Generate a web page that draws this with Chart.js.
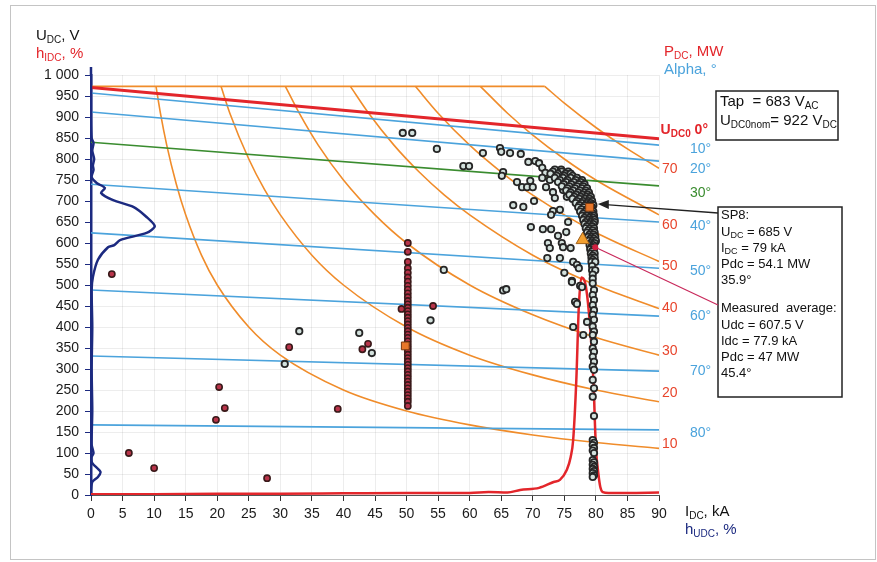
<!DOCTYPE html>
<html>
<head>
<meta charset="utf-8">
<script src="https://cdn.jsdelivr.net/npm/chart.js@4.4.0/dist/chart.umd.min.js"></script>
<style>
html, body { margin: 0; background: #fff; }
</style>
</head>
<body>
<canvas id="myChart" width="877" height="562"></canvas>
<script>
// firing angle lines (alpha), U at I=0 and at I=90 kA
var alphaNames = ['0°', '10°', '20°', '30°', '40°', '50°', '60°', '70°', '80°'];
var alphaStartU = [970, 957, 912, 840, 740, 624, 488, 331, 167];
var alphaEndU = [848, 833, 795, 736, 650, 540, 426, 295, 155];

// constant power curves, MW
var powerLevels = [10, 20, 30, 40, 50, 60, 70];
var powerI = [
  [10.3, 11, 12, 13.5, 15, 17.5, 20, 25, 30, 40, 50, 60, 70, 80, 90],
  [20.6, 22, 25, 27.5, 30, 35, 40, 50, 60, 70, 80, 90],
  [30.8, 33, 36, 40, 45, 50, 60, 70, 80, 90],
  [41.1, 44, 48, 52, 56, 60, 70, 80, 90],
  [51.4, 55, 60, 65, 70, 80, 90],
  [61.7, 66, 70, 75, 80, 90],
  [71.9, 75, 80, 85, 90]
];
var powerU = [
  [973, 909, 833, 741, 667, 571, 500, 400, 333, 250, 200, 167, 143, 125, 111],
  [973, 909, 800, 727, 667, 571, 500, 400, 333, 286, 250, 222],
  [973, 909, 833, 750, 667, 600, 500, 429, 375, 333],
  [973, 909, 833, 769, 714, 667, 571, 500, 444],
  [973, 909, 833, 769, 714, 625, 556],
  [973, 909, 857, 800, 750, 667],
  [973, 933, 875, 824, 778]
];
var capI = [0, 71.9];
var capU = [973, 973];

// histogram of current (red) and voltage (blue)
var histIdcI = [0, 10, 20, 30, 40, 50, 60, 63, 66, 68, 71, 73.3, 74.3, 75.4, 76, 76.4, 76.9, 77.3, 77.7, 78.3, 78.9, 79.6, 80, 80.4, 80.7, 81.1, 82, 85, 90];
var histIdcU = [2, 2, 3, 3, 4, 5, 5, 7, 6, 12, 17, 31, 36, 60, 90, 131, 274, 450, 518, 505, 433, 274, 114, 50, 19, 7, 5, 5, 6];
var histUdcU = [1000, 900, 850, 838, 820, 800, 785, 774, 757, 743, 731, 719, 702, 686, 662, 640, 624, 607, 595, 590, 560, 519, 488, 400, 300, 200, 120, 100, 90, 76, 55, 43, 31, 10, 0];
var histUdcI = [0, 0, 0.1, 0.4, 0.2, 0.5, 0.3, 0.4, 0.1, 0.9, 2.2, 1.6, 3.5, 6.7, 8.8, 10.1, 8.8, 4.6, 3.7, 2.7, 1.1, 0.3, 0.1, 0.2, 0.1, 0.2, 0.1, 0.4, 0.1, 0.2, 1.5, 1.1, 0.2, 0, 0];

// measured points
var openI = [49.4, 50.9, 54.8, 59, 59.9, 62.1, 64.8, 65, 66.4, 68.1, 69.3, 70.4, 71, 71.5, 72, 65.3, 65.1, 67.5, 69.6, 68.3, 69.1, 70, 71.5, 72.1, 72.7, 70.2, 66.9, 68.5, 73.2, 72.9, 69.7, 71.6, 72.9, 75.3, 74, 72.4, 72.7, 74.6, 74.8, 76, 72.3, 74.3, 65.3, 65.8, 75, 76.2, 76.4, 77, 77.3, 76.9, 77.5, 76.2, 76.7, 77, 76.4, 78, 77.8, 78.6, 33, 30.7, 42.5, 44.5, 53.8, 55.9, 73.2, 73.5, 74.8, 75.4, 74.3, 75.6];
var openU = [862, 862, 824, 783, 783, 814, 826, 817, 814, 812, 793, 795, 790, 779, 767, 769, 760, 745, 748, 733, 733, 733, 755, 733, 750, 700, 690, 686, 676, 667, 638, 633, 633, 626, 617, 600, 588, 600, 590, 588, 564, 564, 487, 490, 529, 510, 555, 548, 540, 457, 498, 507, 460, 455, 400, 381, 495, 412, 390, 312, 386, 338, 416, 536, 721, 707, 726, 710, 679, 650];
var clusterRowU = [775, 770, 765, 760, 755, 750, 745, 740, 735, 730, 725, 720, 715, 710, 705, 700, 695, 690, 685, 680, 675, 670, 665, 660, 655, 650, 645, 640, 635, 630, 625, 620, 615, 610, 605, 600, 595, 590, 585, 580, 575, 570, 565, 560, 555, 545, 535, 525, 515];
var clusterRowI = [
  [73.5, 74.5], [73.2, 74.6, 75.6], [72.8, 74, 75.2, 76], [73.8, 75, 76.3],
  [73.5, 74.8, 76, 77], [74.3, 75.5, 76.8, 77.8], [74, 75.3, 76.5, 77.6], [74.9, 76.1, 77.3, 78.2],
  [74.6, 75.8, 77, 78], [75.5, 76.7, 77.8, 78.6], [75.3, 76.4, 77.5, 78.4], [76, 77.2, 78.2, 78.9],
  [75.8, 76.9, 77.9, 78.7], [76.6, 77.6, 78.5, 79.2], [76.3, 77.4, 78.3, 79], [77, 78, 78.8, 79.4],
  [76.8, 77.8, 78.6, 79.2], [77.4, 78.3, 79.1, 79.6], [77.2, 78.1, 78.9, 79.4], [77.7, 78.6, 79.3],
  [77.5, 78.4, 79.1, 79.6], [78, 78.8, 79.5], [77.8, 78.6, 79.3, 79.7], [78.2, 79, 79.6],
  [78, 78.8, 79.4, 79.8], [78.4, 79.2, 79.8], [78.2, 79, 79.6], [78.6, 79.4],
  [78.4, 79.1, 79.7], [78.8, 79.5], [78.6, 79.3, 79.8], [79, 79.6],
  [78.8, 79.4, 79.9], [79.1, 79.7], [78.9, 79.5, 80], [79.2, 79.8],
  [79, 79.6], [79.3, 79.6], [79.1, 79.7], [79.4], [79.2, 79.8], [79.5],
  [79.3, 79.8], [79.5], [79.3, 79.9], [79.4], [79.4, 79.9], [79.5], [79.5]
];
var col80U = [504, 488, 476, 464, 452, 440, 429, 417, 401, 389, 381, 365, 349, 341, 329, 317, 306, 298, 274, 254, 234, 188, 131, 124, 119, 112, 106, 100, 83, 78, 72, 67, 62, 57, 52, 47, 43];
var redI = [3.3, 6, 10, 27.9, 19.8, 20.3, 21.2, 31.4, 43.9, 43, 39.1, 49.2, 54.2];
var redU = [526, 100, 64, 40, 179, 257, 207, 352, 360, 347, 205, 443, 450];
var col50U = [600, 579, 555, 540, 529, 518, 508, 498, 489, 480, 471, 462, 454, 446, 438, 430, 422, 414, 406, 398, 390, 382, 374, 366, 358, 350, 342, 334, 326, 318, 310, 302, 294, 286, 278, 270, 262, 254, 246, 238, 230, 222, 212];

var sp8 = {x: 79, y: 685};
var measuredAvg = {x: 77.9, y: 607.5};
var extraSquare = {x: 49.8, y: 355};

var FONT = '"Liberation Sans", Arial, sans-serif';

function pts(xs, ys) {
  return xs.map(function (x, i) { return {x: x, y: ys[i]}; });
}

var openPts = pts(openI, openU);
clusterRowU.forEach(function (u, r) {
  clusterRowI[r].forEach(function (i) { openPts.push({x: i, y: u}); });
});
col80U.forEach(function (u, k) { openPts.push({x: k % 2 ? 79.7 : 79.5, y: u}); });
var redPts = pts(redI, redU);
col50U.forEach(function (u) { redPts.push({x: 50.2, y: u}); });

var datasets = [];
alphaNames.forEach(function (n, i) {
  datasets.push({
    data: [{x: 0, y: alphaStartU[i]}, {x: 90, y: alphaEndU[i]}],
    showLine: true, pointRadius: 0,
    borderColor: i === 0 ? '#e3262b' : (i === 3 ? '#3a8c2f' : '#4ba3dc'),
    borderWidth: i === 0 ? 3 : 1.6, order: 10
  });
});
datasets.push({data: pts(capI, capU), showLine: true, pointRadius: 0, borderColor: '#f08c2a', borderWidth: 1.6, order: 11});
powerLevels.forEach(function (p, i) {
  datasets.push({
    data: pts(powerI[i], powerU[i]), showLine: true, pointRadius: 0,
    borderColor: '#f08c2a', borderWidth: 1.6, cubicInterpolationMode: 'monotone', order: 11
  });
});
datasets.push({data: pts(histIdcI, histIdcU), showLine: true, pointRadius: 0, borderColor: '#e3262b', borderWidth: 2.5, cubicInterpolationMode: 'monotone', order: 5});
datasets.push({data: pts(histUdcI, histUdcU), showLine: true, pointRadius: 0, borderColor: '#1c2a80', borderWidth: 2.5, tension: 0.25, order: 5});
datasets.push({data: openPts, pointRadius: 3.2, pointBorderWidth: 1.8, pointBorderColor: '#262626', pointBackgroundColor: '#d3e1dd', order: 3});
datasets.push({data: redPts, pointRadius: 3.1, pointBorderWidth: 1.6, pointBorderColor: '#3a1a1a', pointBackgroundColor: '#b8344a', order: 2});
datasets.push({data: [sp8, extraSquare], pointStyle: 'rect', pointRadius: 5.5, pointBorderWidth: 1, pointBorderColor: '#7a3a10', pointBackgroundColor: '#e8772a', order: 1});
datasets.push({data: [measuredAvg], pointStyle: 'triangle', pointRadius: 7.5, pointBorderWidth: 1, pointBorderColor: '#a0601a', pointBackgroundColor: '#f2a030', order: 1});

function rich(ctx, x, y, parts, size, color, weight, align) {
  ctx.save();
  ctx.fillStyle = color;
  ctx.textBaseline = 'middle';
  ctx.textAlign = 'left';
  var w = 0;
  parts.forEach(function (p) {
    ctx.font = (weight || 'normal') + ' ' + (p[1] ? Math.round(size * 0.68) : size) + 'px ' + FONT;
    w += ctx.measureText(p[0]).width;
  });
  var cx = align === 'right' ? x - w : x;
  parts.forEach(function (p) {
    ctx.font = (weight || 'normal') + ' ' + (p[1] ? Math.round(size * 0.68) : size) + 'px ' + FONT;
    ctx.fillText(p[0], cx, p[1] ? y + size * 0.28 : y);
    cx += ctx.measureText(p[0]).width;
  });
  ctx.restore();
}

var annotations = {
  id: 'annotations',
  afterDatasetsDraw: function (chart) {
    var ctx = chart.ctx, xs = chart.scales.x, ys = chart.scales.y, a = chart.chartArea;
    ctx.save();
    // frame
    ctx.strokeStyle = '#c4c4c4';
    ctx.lineWidth = 1;
    ctx.strokeRect(10.5, 5.5, 865, 554);
    // axis extension above 1000
    ctx.strokeStyle = '#1c2a80';
    ctx.lineWidth = 2.5;
    ctx.beginPath(); ctx.moveTo(a.left, a.top); ctx.lineTo(a.left, a.top - 8); ctx.stroke();

    // axis titles
    rich(ctx, 36, 36, [['U'], ['DC', 1], [', V']], 15, '#111');
    rich(ctx, 36, 54, [['h'], ['IDC', 1], [', %']], 15, '#e3262b');
    rich(ctx, 664, 52, [['P'], ['DC', 1], [', MW']], 15, '#e3262b');
    rich(ctx, 664, 70, [['Alpha, °']], 15, '#4ba3dc');
    rich(ctx, 685, 512, [['I'], ['DC', 1], [', kA']], 15, '#111');
    rich(ctx, 685, 530, [['h'], ['UDC', 1], [', %']], 15, '#1c2a80');

    // alpha labels
    rich(ctx, 708, 130, [['U'], ['DC0', 1], [' 0°']], 14, '#e3262b', 'bold', 'right');
    var alphaY = [149, 169, 193, 226, 271, 316, 371, 433];
    for (var i = 1; i < alphaNames.length; i++) {
      rich(ctx, 690, alphaY[i - 1], [[alphaNames[i]]], 14, i === 3 ? '#3a8c2f' : '#4ba3dc');
    }
    // power labels
    var pY = [444, 393, 351, 308, 266, 225, 169];
    powerLevels.forEach(function (p, k) {
      rich(ctx, 662, pY[k], [[String(p)]], 14, '#e8452c');
    });

    // box 1
    ctx.strokeStyle = '#222'; ctx.lineWidth = 1.5;
    ctx.strokeRect(716, 91, 122, 49);
    rich(ctx, 720, 102, [['Tap  = 683 V'], ['AC', 1]], 15, '#111');
    rich(ctx, 720, 121, [['U'], ['DC0nom', 1], ['= 922 V'], ['DC', 1]], 15, '#111');

    // box 2
    ctx.strokeRect(718, 207, 124, 190);
    var lh = [215, 232, 248, 264, 280, 308, 325, 341, 357, 373];
    rich(ctx, 721, lh[0], [['SP8:']], 13, '#111');
    rich(ctx, 721, lh[1], [['U'], ['DC', 1], [' = 685 V']], 13, '#111');
    rich(ctx, 721, lh[2], [['I'], ['DC', 1], [' = 79 kA']], 13, '#111');
    rich(ctx, 721, lh[3], [['Pdc = 54.1 MW']], 13, '#111');
    rich(ctx, 721, lh[4], [['35.9°']], 13, '#111');
    rich(ctx, 721, lh[5], [['Measured  average:']], 13, '#111');
    rich(ctx, 721, lh[6], [['Udc = 607.5 V']], 13, '#111');
    rich(ctx, 721, lh[7], [['Idc = 77.9 kA']], 13, '#111');
    rich(ctx, 721, lh[8], [['Pdc = 47 MW']], 13, '#111');
    rich(ctx, 721, lh[9], [['45.4°']], 13, '#111');

    // arrow to SP8
    var tx = xs.getPixelForValue(80.3), ty = ys.getPixelForValue(693);
    ctx.strokeStyle = '#222'; ctx.lineWidth = 1.3;
    ctx.beginPath(); ctx.moveTo(718, 213); ctx.lineTo(tx + 8, ty + 0.6); ctx.stroke();
    ctx.fillStyle = '#222';
    ctx.beginPath(); ctx.moveTo(tx, ty); ctx.lineTo(tx + 11, ty - 4); ctx.lineTo(tx + 11, ty + 5); ctx.closePath(); ctx.fill();

    // line to measured average
    var mx = xs.getPixelForValue(79.9), my = ys.getPixelForValue(590);
    ctx.strokeStyle = '#c8285a'; ctx.lineWidth = 1.2;
    ctx.beginPath(); ctx.moveTo(718, 305); ctx.lineTo(mx, my); ctx.stroke();
    ctx.fillStyle = '#d02040';
    ctx.beginPath(); ctx.arc(mx, my, 3, 0, Math.PI * 2); ctx.fill();
    ctx.restore();
  }
};

var ctx = document.getElementById('myChart').getContext('2d');
var chart = new Chart(ctx, {
  type: 'scatter',
  data: {datasets: datasets},
  options: {
    responsive: false,
    animation: false,
    layout: {padding: {left: 0, right: 218, top: 75, bottom: 0}},
    plugins: {legend: {display: false}, tooltip: {enabled: false}},
    scales: {
      x: {
        type: 'linear', min: 0, max: 90,
        afterFit: function (s) { s.height = 67; },
        ticks: {stepSize: 5, autoSkip: false, maxRotation: 0, padding: 5, color: '#1a1a1a', font: {family: FONT, size: 14}},
        grid: {color: 'rgba(0,0,0,0.07)', tickColor: '#333', tickLength: 6},
        border: {color: '#555', width: 1}
      },
      y: {
        type: 'linear', min: 0, max: 1000,
        afterFit: function (s) { s.width = 91; },
        ticks: {
          stepSize: 50, autoSkip: false, padding: 6, color: '#1a1a1a', font: {family: FONT, size: 14},
          callback: function (v) { return v >= 1000 ? '1 000' : v; }
        },
        grid: {color: 'rgba(0,0,0,0.07)', tickColor: '#1c2a80', tickLength: 6},
        border: {color: '#1c2a80', width: 2.5}
      }
    }
  },
  plugins: [annotations]
});
</script>
</body>
</html>
